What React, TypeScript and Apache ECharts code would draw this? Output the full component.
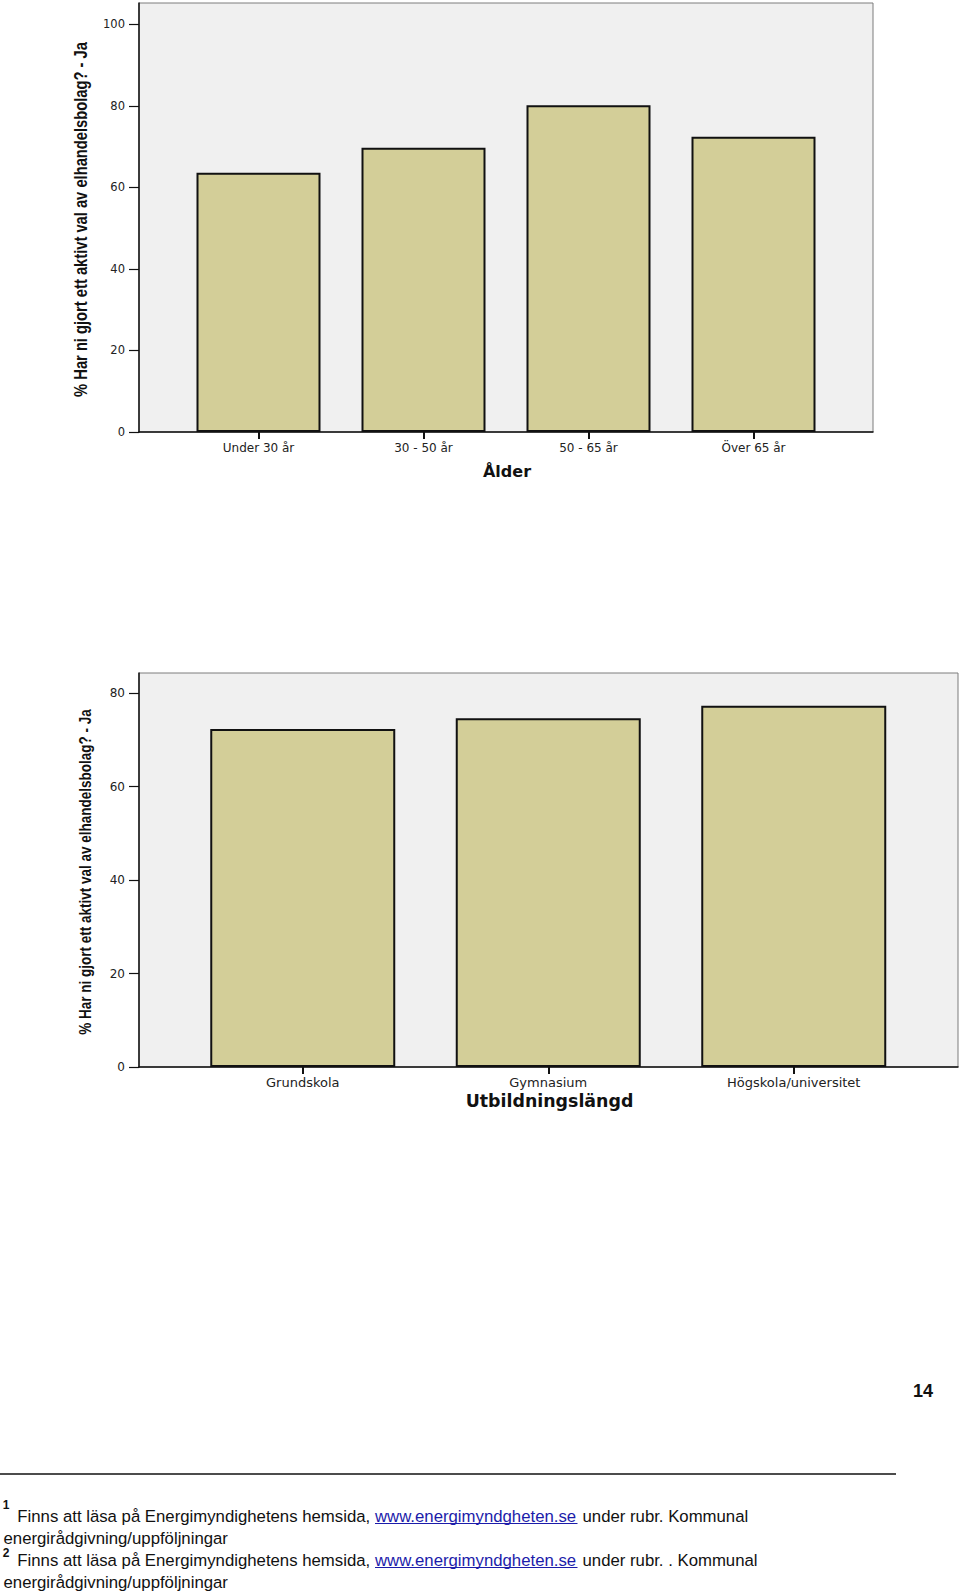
import React, { useEffect, useRef } from "react";
import * as echarts from "echarts";

// ---- Data ----
const ageCategories = ["Under 30 år", "30 - 50 år", "50 - 65 år", "Över 65 år"];
const ageValues = [63.6, 69.7, 80.1, 72.4];
const ageTicks = [0, 20, 40, 60, 80, 100];
const ageMax = 105.2;

const eduCategories = ["Grundskola", "Gymnasium", "Högskola/universitet"];
const eduValues = [72.3, 74.6, 77.3];
const eduTicks = [0, 20, 40, 60, 80];
const eduMax = 84.3;

const yTitle = "% Har ni gjort ett aktivt val av elhandelsbolag? - Ja";
const ageTitle = "Ålder";
const eduTitle = "Utbildningslängd";
const pageNumber = "14";

const footSup = ["1", "2"];
const footPre = "Finns att läsa på Energimyndighetens hemsida,";
const footLink = "www.energimyndgheten.se";
const footPost = ["under rubr. Kommunal", "under rubr. . Kommunal"];
const footCont = "energirådgivning/uppföljningar";

// ---- Styles ----
const BAR_FILL = "#d3ce98";
const FRAME_BG = "#f0f0f0";
const INK = "#111111";
const LINK = "#1c1caa";
const TICK_FONT = "'DejaVu Sans', sans-serif";
const SANS = "'Liberation Sans', Arial, sans-serif";

function frameAxes(gridIndex: number, max: number, ticks: number[], labelSize: number) {
  const xAxis = {
    type: "value",
    gridIndex,
    min: 0,
    max: 1,
    axisLine: { show: true, onZero: false, lineStyle: { color: INK, width: 1.5 } },
    axisTick: { show: false },
    axisLabel: { show: false },
    splitLine: { show: false },
  };
  const yAxis = {
    type: "value",
    gridIndex,
    min: 0,
    max,
    axisLine: { show: true, lineStyle: { color: INK, width: 1.5 } },
    axisTick: {
      show: true,
      length: 10,
      lineStyle: { color: INK, width: 1.2 },
      customValues: ticks,
    },
    axisLabel: {
      show: true,
      margin: 14,
      fontSize: labelSize,
      fontFamily: TICK_FONT,
      color: "#222",
      customValues: ticks,
    },
    splitLine: { show: false },
  };
  return { xAxis, yAxis };
}

function barAxes(gridIndex: number, cats: string[], max: number, labelSize: number, margin: number) {
  const xAxis = {
    type: "category",
    gridIndex,
    data: cats,
    axisLine: { show: false },
    axisTick: { show: true, alignWithLabel: true, length: 7, lineStyle: { color: INK, width: 2 } },
    axisLabel: { interval: 0, margin, fontSize: labelSize, fontFamily: TICK_FONT, color: "#222" },
    splitLine: { show: false },
  };
  const yAxis = {
    type: "value",
    gridIndex,
    min: 0,
    max,
    show: false,
    splitLine: { show: false },
  };
  return { xAxis, yAxis };
}

function textEl(x: number, y: number, text: string, style: any, extra: any = {}) {
  return {
    type: "text",
    x,
    y,
    ...extra,
    style: { text, fill: INK, verticalAlign: "middle", ...style },
  };
}

export default function App() {
  const ref = useRef<HTMLDivElement>(null);

  useEffect(() => {
    if (!ref.current) return;
    const chart = echarts.init(ref.current, null, { renderer: "svg" });

    const f1 = frameAxes(0, ageMax, ageTicks, 11.5);
    const b1 = barAxes(1, ageCategories, ageMax, 12, 10);
    const f2 = frameAxes(2, eduMax, eduTicks, 12);
    const b2 = barAxes(3, eduCategories, eduMax, 13, 9);

    const graphics: any[] = [
      textEl(
        81,
        219.5,
        yTitle,
        { fontSize: 18.5, fontWeight: "bold", fontFamily: SANS, align: "center" },
        { rotation: Math.PI / 2, scaleX: 0.796 }
      ),
      textEl(507, 471, ageTitle, {
        fontSize: 16,
        fontWeight: "bold",
        fontFamily: TICK_FONT,
        align: "center",
      }),
      textEl(
        85,
        872,
        yTitle,
        { fontSize: 17, fontWeight: "bold", fontFamily: SANS, align: "center" },
        { rotation: Math.PI / 2, scaleX: 0.795 }
      ),
      textEl(549.5, 1101, eduTitle, {
        fontSize: 17.4,
        fontWeight: "bold",
        fontFamily: TICK_FONT,
        align: "center",
      }),
      textEl(923, 1391, pageNumber, {
        fontSize: 18,
        fontWeight: "bold",
        fontFamily: SANS,
        align: "center",
      }),
      {
        type: "line",
        shape: { x1: 0, y1: 1474, x2: 896, y2: 1474 },
        style: { stroke: INK, lineWidth: 1.6 },
      },
    ];

    const FS = 16.75;
    const supY = [1505, 1553];
    footSup.forEach((sup, i) => {
      const base = i * 44;
      graphics.push(
        textEl(6, supY[i], sup, { fontSize: 12, fontWeight: "bold", fontFamily: SANS, align: "center" })
      );
      graphics.push(textEl(17.3, 1516 + base, footPre, { fontSize: FS, fontFamily: SANS, align: "left" }));
      graphics.push(
        textEl(375, 1516 + base, footLink, { fontSize: FS, fontFamily: SANS, align: "left", fill: LINK })
      );
      graphics.push({
        type: "line",
        shape: { x1: 375, y1: 1523.5 + base, x2: 577.5, y2: 1523.5 + base },
        style: { stroke: LINK, lineWidth: 1 },
      });
      graphics.push(
        textEl(582.5, 1516 + base, footPost[i], { fontSize: FS, fontFamily: SANS, align: "left" })
      );
      graphics.push(textEl(3.5, 1538 + base, footCont, { fontSize: FS, fontFamily: SANS, align: "left" }));
    });

    const option: any = {
      animation: false,
      backgroundColor: "#ffffff",
      grid: [
        {
          left: 139, top: 3, width: 734, height: 429,
          show: true, backgroundColor: FRAME_BG, borderColor: "#7d7d7d", borderWidth: 1,
          containLabel: false, outerBoundsMode: "none",
        },
        {
          left: 176, top: 3, width: 660, height: 429,
          show: false, containLabel: false, outerBoundsMode: "none",
        },
        {
          left: 139, top: 673, width: 819, height: 394,
          show: true, backgroundColor: FRAME_BG, borderColor: "#7d7d7d", borderWidth: 1,
          containLabel: false, outerBoundsMode: "none",
        },
        {
          left: 180, top: 673, width: 736.5, height: 394,
          show: false, containLabel: false, outerBoundsMode: "none",
        },
      ],
      xAxis: [f1.xAxis, b1.xAxis, f2.xAxis, b2.xAxis],
      yAxis: [f1.yAxis, b1.yAxis, f2.yAxis, b2.yAxis],
      series: [
        {
          type: "bar",
          xAxisIndex: 1,
          yAxisIndex: 1,
          data: ageValues,
          barWidth: 124,
          itemStyle: { color: BAR_FILL, borderColor: INK, borderWidth: 2 },
          z: 3,
        },
        {
          type: "bar",
          xAxisIndex: 3,
          yAxisIndex: 3,
          data: eduValues,
          barWidth: 185,
          itemStyle: { color: BAR_FILL, borderColor: INK, borderWidth: 2 },
          z: 3,
        },
      ],
      graphic: graphics,
    };

    chart.setOption(option);
    return () => {
      chart.dispose();
    };
  }, []);

  return (
    <div
      ref={ref}
      style={{ position: "absolute", left: 0, top: 0, width: 960, height: 1593, background: "#fff" }}
    />
  );
}
